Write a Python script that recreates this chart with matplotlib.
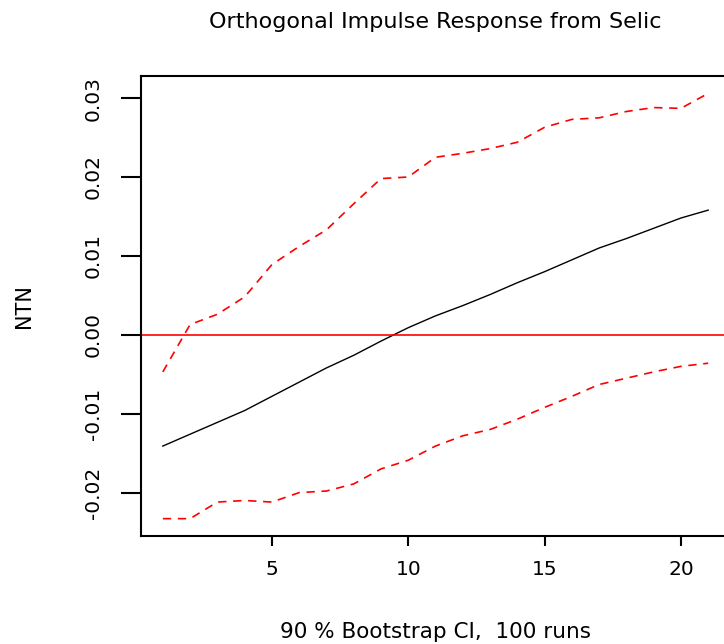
import numpy as np
import matplotlib
matplotlib.use('Agg')
import matplotlib.pyplot as plt

# impulse response of NTN to a Selic shock, 21 steps
steps = np.arange(1, 22)
irf = [-0.0141, -0.0126, -0.0111, -0.0096, -0.0078, -0.0060, -0.0042, -0.0026,
       -0.0008, 0.0009, 0.0024, 0.0037, 0.0051, 0.0066, 0.0080, 0.0095,
       0.0110, 0.0122, 0.0135, 0.0148, 0.0158]
upper = [-0.0047, 0.0013, 0.0026, 0.0048, 0.0089, 0.0112, 0.0133, 0.0166,
         0.0198, 0.0200, 0.0225, 0.0230, 0.0236, 0.0244, 0.0263, 0.0273,
         0.0275, 0.0283, 0.0288, 0.0287, 0.0306]
lower = [-0.0233, -0.0233, -0.0212, -0.0210, -0.0212, -0.0200, -0.0198, -0.0189,
         -0.0170, -0.0159, -0.0141, -0.0128, -0.0120, -0.0107, -0.0092, -0.0078,
         -0.0063, -0.0055, -0.0047, -0.0040, -0.0036]

y_ticks = [-0.02, -0.01, 0.00, 0.01, 0.02, 0.03]
y_tick_labels = ['-0.02', '-0.01', '0.00', '0.01', '0.02', '0.03']
x_ticks = [5, 10, 15, 20]

plt.rcParams['font.family'] = ['DejaVu Sans']

fig = plt.figure(figsize=(7.24, 6.44), dpi=100)
# axes box runs past the right edge of the picture, like the cropped original
ax = fig.add_axes([141 / 724, 108 / 644, 589 / 724, 460 / 644])

ax.plot(steps, irf, color='black', linewidth=1.0)
ax.plot(steps, upper, color='red', linewidth=1.2, dashes=(5, 4))
ax.plot(steps, lower, color='red', linewidth=1.2, dashes=(5, 4))
ax.axhline(0, color='red', linewidth=1.2)

ax.set_xlim(0.2, 21.8)
ax.set_ylim(-0.0255, 0.0328)

ax.set_xticks(x_ticks)
ax.set_xticklabels([str(t) for t in x_ticks], fontsize=14.5)
ax.set_yticks(y_ticks)
ax.set_yticklabels(y_tick_labels, fontsize=14.5, rotation=90, va='center')

ax.tick_params(axis='y', length=14.4, width=1.5, pad=13)
ax.tick_params(axis='x', length=7.2, width=1.5, pad=10)

for side in ['left', 'bottom', 'top', 'right']:
    ax.spines[side].set_linewidth(1.5)

fig.text(435 / 724, 1 - 22 / 644, 'Orthogonal Impulse Response from Selic',
         ha='center', va='center', fontsize=16)
fig.text(436 / 724, 1 - 632 / 644, '90 % Bootstrap CI,  100 runs',
         ha='center', va='center', fontsize=15.5)
fig.text(24 / 724, 1 - 306 / 644, 'NTN',
         ha='center', va='center', rotation=90, fontsize=15)

fig.savefig('out.png', dpi=100)
